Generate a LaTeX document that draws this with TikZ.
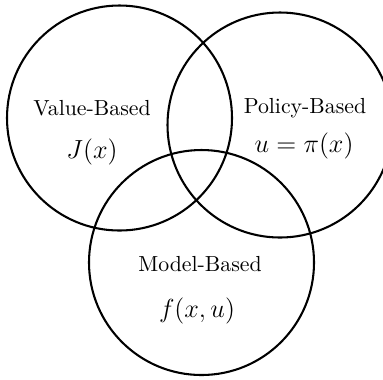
\documentclass[tikz,border=0pt]{standalone}
\begin{document}
\begin{tikzpicture}[x=0.4587pt,y=-0.4587pt,
  venn/.style={draw,line width=0.95pt},
  lbl/.style={font=\normalsize},
  mlbl/.style={font=\large}]
\useasboundingbox (0,0) rectangle (383,379);
\begin{scope}
\clip (0,0) rectangle (383,379);
\draw[venn] (119.5,118) circle[radius=112.5];
\draw[venn] (280,125) circle[radius=112.5];
\draw[venn] (201.5,262.5) circle[radius=112.5];
\end{scope}
\node[lbl] (vb) at (92,108) {Value-Based};
\node[mlbl] (vj) at (92,152) {$J(x)$};
\node[lbl] (pb) at (305,108) {Policy-Based};
\node[mlbl] (pu) at (304,146) {$u=\pi(x)$};
\node[lbl] (mb) at (200,264) {Model-Based};
\node[mlbl] (mf) at (197,311) {$f(x,u)$};
\end{tikzpicture}
\end{document}
